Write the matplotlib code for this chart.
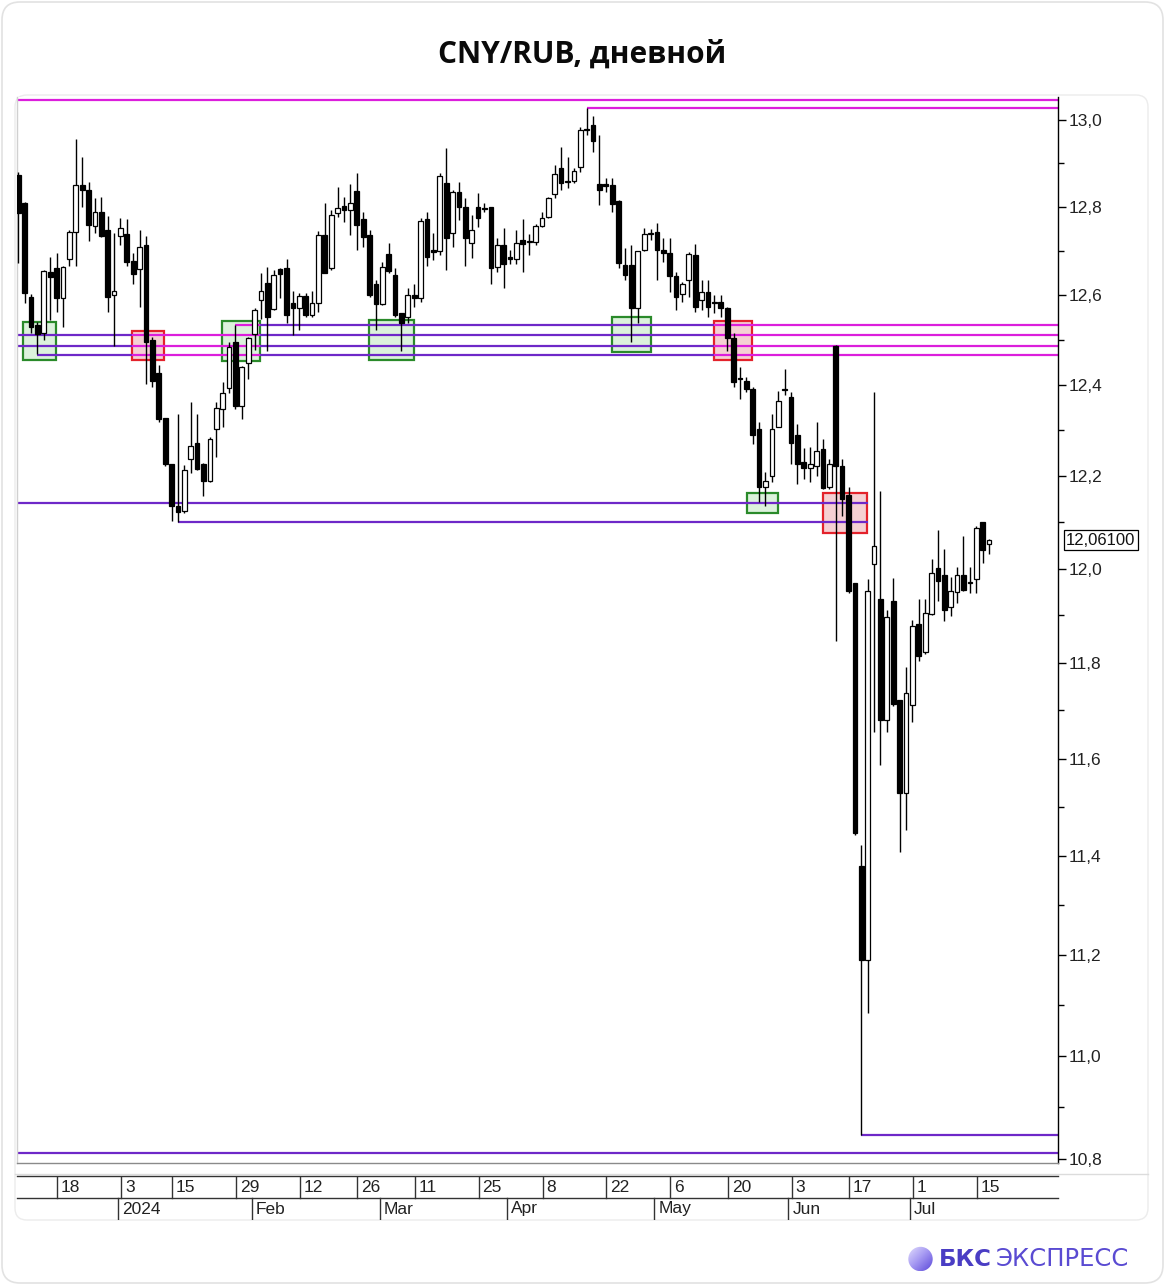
import numpy as np
import matplotlib
matplotlib.use("Agg")
import matplotlib.pyplot as plt
from matplotlib.patches import Rectangle, FancyBboxPatch, Circle
from matplotlib.ticker import FixedLocator, FuncFormatter, NullFormatter
from matplotlib.colors import LinearSegmentedColormap

plt.rcParams['font.family'] = ['Liberation Sans', 'DejaVu Sans']

W, H = 1165, 1285

# ---------------- data (daily OHLC, CNY/RUB) ----------------
opens = [12.873, 12.809, 12.596, 12.534, 12.516, 12.653, 12.662, 12.594, 12.682, 12.743,
         12.850, 12.839, 12.757, 12.789, 12.748, 12.601, 12.734, 12.739, 12.678, 12.660,
         12.714, 12.500, 12.427, 12.326, 12.227, 12.134, 12.123, 12.236, 12.273, 12.227,
         12.190, 12.302, 12.346, 12.392, 12.494, 12.354, 12.449, 12.514, 12.588, 12.628,
         12.570, 12.660, 12.662, 12.583, 12.572, 12.599, 12.556, 12.583, 12.736, 12.662,
         12.786, 12.802, 12.793, 12.836, 12.773, 12.736, 12.624, 12.581, 12.693, 12.646,
         12.561, 12.550, 12.601, 12.594, 12.773, 12.702, 12.700, 12.855, 12.741, 12.834,
         12.800, 12.718, 12.800, 12.798, 12.800, 12.664, 12.714, 12.686, 12.682, 12.725,
         12.721, 12.721, 12.757, 12.777, 12.830, 12.889, 12.859, 12.859, 12.891, 12.979,
         12.988, 12.852, 12.852, 12.850, 12.814, 12.669, 12.669, 12.572, 12.702, 12.738,
         12.743, 12.702, 12.696, 12.644, 12.603, 12.633, 12.691, 12.590, 12.608, 12.584,
         12.585, 12.572, 12.505, 12.415, 12.409, 12.390, 12.302, 12.176, 12.199, 12.308,
         12.391, 12.374, 12.289, 12.230, 12.217, 12.221, 12.258, 12.175, 12.487, 12.221,
         12.158, 11.969, 11.380, 11.190, 12.009, 11.935, 11.681, 11.931, 11.722, 11.528,
         11.712, 11.882, 11.823, 11.903, 12.001, 11.986, 11.918, 11.950, 11.986, 11.970,
         11.977, 12.100, 12.052]
highs = [12.880, 12.811, 12.603, 12.540, 12.657, 12.687, 12.696, 12.666, 12.748, 12.956,
         12.915, 12.857, 12.821, 12.823, 12.780, 12.741, 12.775, 12.773, 12.696, 12.748,
         12.734, 12.507, 12.445, 12.326, 12.227, 12.335, 12.223, 12.361, 12.335, 12.229,
         12.286, 12.361, 12.406, 12.494, 12.534, 12.442, 12.507, 12.572, 12.651, 12.664,
         12.657, 12.662, 12.682, 12.610, 12.605, 12.605, 12.610, 12.745, 12.809, 12.793,
         12.846, 12.823, 12.852, 12.877, 12.789, 12.748, 12.635, 12.675, 12.718, 12.662,
         12.561, 12.617, 12.624, 12.775, 12.789, 12.741, 12.877, 12.935, 12.839, 12.857,
         12.821, 12.782, 12.832, 12.809, 12.800, 12.730, 12.752, 12.702, 12.748, 12.773,
         12.739, 12.761, 12.789, 12.823, 12.896, 12.937, 12.915, 12.889, 12.984, 13.028,
         13.009, 12.965, 12.866, 12.866, 12.816, 12.707, 12.714, 12.700, 12.752, 12.750,
         12.764, 12.730, 12.730, 12.653, 12.630, 12.698, 12.716, 12.635, 12.635, 12.601,
         12.601, 12.574, 12.516, 12.440, 12.418, 12.396, 12.319, 12.208, 12.335, 12.387,
         12.436, 12.385, 12.313, 12.262, 12.264, 12.317, 12.280, 12.236, 12.489, 12.236,
         12.175, 11.969, 11.422, 11.977, 12.385, 12.167, 11.912, 11.980, 11.722, 11.791,
         11.890, 11.935, 11.935, 12.020, 12.082, 12.042, 11.982, 12.003, 12.070, 12.003,
         12.091, 12.100, 12.063]
lows = [12.673, 12.583, 12.516, 12.469, 12.500, 12.545, 12.563, 12.529, 12.666, 12.666,
        12.800, 12.723, 12.741, 12.732, 12.563, 12.487, 12.714, 12.666, 12.624, 12.574,
        12.401, 12.396, 12.317, 12.221, 12.102, 12.100, 12.119, 12.206, 12.214, 12.156,
        12.186, 12.241, 12.306, 12.383, 12.346, 12.324, 12.412, 12.478, 12.547, 12.474,
        12.567, 12.594, 12.538, 12.511, 12.523, 12.552, 12.552, 12.563, 12.651, 12.657,
        12.777, 12.766, 12.736, 12.702, 12.709, 12.596, 12.523, 12.578, 12.651, 12.552,
        12.474, 12.538, 12.574, 12.585, 12.666, 12.680, 12.691, 12.657, 12.709, 12.770,
        12.666, 12.684, 12.755, 12.789, 12.624, 12.653, 12.617, 12.671, 12.671, 12.653,
        12.691, 12.714, 12.755, 12.775, 12.821, 12.839, 12.843, 12.855, 12.880, 12.965,
        12.926, 12.805, 12.834, 12.789, 12.662, 12.635, 12.496, 12.538, 12.700, 12.725,
        12.635, 12.675, 12.608, 12.567, 12.585, 12.596, 12.563, 12.567, 12.552, 12.561,
        12.552, 12.474, 12.396, 12.368, 12.385, 12.269, 12.143, 12.134, 12.186, 12.306,
        12.378, 12.225, 12.182, 12.193, 12.186, 12.199, 12.171, 12.171, 11.846, 12.113,
        11.947, 11.443, 10.846, 11.085, 11.656, 11.587, 11.656, 11.710, 11.409, 11.454,
        11.676, 11.804, 11.818, 11.901, 11.931, 11.888, 11.899, 11.926, 11.952, 11.948,
        11.948, 12.012, 12.031]
closes = [12.786, 12.605, 12.529, 12.514, 12.655, 12.642, 12.594, 12.664, 12.743, 12.850,
          12.839, 12.759, 12.789, 12.734, 12.596, 12.610, 12.752, 12.675, 12.648, 12.709,
          12.494, 12.409, 12.324, 12.225, 12.134, 12.121, 12.214, 12.265, 12.216, 12.188,
          12.280, 12.348, 12.381, 12.483, 12.354, 12.440, 12.503, 12.567, 12.610, 12.550,
          12.646, 12.648, 12.556, 12.572, 12.599, 12.556, 12.583, 12.736, 12.651, 12.782,
          12.798, 12.793, 12.809, 12.759, 12.732, 12.601, 12.581, 12.664, 12.655, 12.556,
          12.538, 12.601, 12.594, 12.768, 12.687, 12.698, 12.871, 12.730, 12.834, 12.800,
          12.730, 12.748, 12.775, 12.796, 12.662, 12.714, 12.671, 12.682, 12.718, 12.716,
          12.723, 12.757, 12.775, 12.821, 12.875, 12.855, 12.857, 12.882, 12.977, 12.977,
          12.951, 12.839, 12.848, 12.807, 12.673, 12.646, 12.572, 12.700, 12.739, 12.740,
          12.702, 12.696, 12.644, 12.596, 12.626, 12.693, 12.574, 12.608, 12.574, 12.582,
          12.572, 12.505, 12.407, 12.413, 12.390, 12.289, 12.176, 12.189, 12.302, 12.365,
          12.388, 12.273, 12.225, 12.217, 12.227, 12.254, 12.173, 12.227, 12.221, 12.149,
          11.952, 11.447, 11.190, 11.952, 12.048, 11.681, 11.897, 11.714, 11.528, 11.737,
          11.878, 11.814, 11.905, 11.990, 11.973, 11.912, 11.952, 11.986, 11.954, 11.971,
          12.087, 12.039, 12.061]

last_price_label = "12,06100"

day_labels = ["18", "3", "15", "29", "12", "26", "11", "25", "8", "22", "6", "20", "3", "17", "1", "15"]
day_idx = [6, 16, 24, 34, 44, 53, 62, 72, 82, 92, 102, 111, 121, 130, 140, 150]
month_labels = ["2024", "Feb", "Mar", "Apr", "May", "Jun", "Jul"]
month_idx = [16, 37, 57, 77, 100, 121, 140]

y_ticks = [10.8, 11.0, 11.2, 11.4, 11.6, 11.8, 12.0, 12.2, 12.4, 12.6, 12.8, 13.0]
y_minor = [10.9, 11.1, 11.3, 11.5, 11.7, 11.9, 12.1, 12.3, 12.5, 12.7, 12.9]

# horizontal levels: price, first candle (None = chart edge), last candle (None = chart edge), kind
level_price = [13.047, 13.028, 12.533, 12.511, 12.486, 12.466, 12.141, 12.100, 10.846, 10.812]
level_from = [None, 89, 34, None, None, 3, None, 25, 132, None]
level_to = [None, None, None, None, None, None, 133.0, 133.0, None, None]
level_kind = ["res", "res", "flip", "flip", "flip", "flip", "sup", "sup", "sup", "sup"]
flip_points = [17.85, 37.85, 108.99]   # where the 12.5 zone changes role

# highlighted zones: (first idx, last idx, low, high)
green_zones = [(0.69, 5.86, 12.456, 12.539), (31.85, 37.85, 12.452, 12.541),
               (54.96, 62.01, 12.454, 12.544), (92.92, 99.08, 12.473, 12.551),
               (114.06, 118.92, 12.119, 12.164)]
red_zones = [(17.85, 22.77, 12.454, 12.519), (108.99, 114.94, 12.456, 12.541),
             (125.96, 132.95, 12.076, 12.164)]

PURPLE = "#6e28c8"
MAGENTA = "#dc1edc"

# ---------------- figure ----------------
fig = plt.figure(figsize=(W / 100, H / 100), dpi=100)
fig.patch.set_facecolor("white")

bg = fig.add_axes([0, 0, 1, 1], zorder=0)
bg.set_xlim(0, W)
bg.set_ylim(H, 0)
bg.axis("off")
bg.add_patch(FancyBboxPatch((2, 2), W - 4, H - 4, boxstyle="round,pad=0,rounding_size=18",
                            ec="#e2e2e2", fc="white", lw=1.2))
bg.add_patch(FancyBboxPatch((15, 95), 1133, 1125, boxstyle="round,pad=0,rounding_size=12",
                            ec="#ececec", fc="white", lw=1.0))
bg.plot([15, 1148], [1173.5, 1173.5], color="#dcdcdc", lw=1.0)

# logo
grad = np.linspace(0, 1, 64)
gx, gy = np.meshgrid(grad, grad)
img = (gx + gy) / 2
cmap = LinearSegmentedColormap.from_list("lg", ["#e4e0fd", "#a396f2", "#5b48d8"])
circ = Circle((920.5, 1259), 12.2, transform=bg.transData, fc="none", ec="none")
bg.add_patch(circ)
im = bg.imshow(img, extent=[908, 933, 1271.5, 1246.5], cmap=cmap, zorder=2)
im.set_clip_path(circ)
bg.set_xlim(0, W)
bg.set_ylim(H, 0)
bg.text(939, 1259, "БКС", fontsize=16.5, fontweight="bold", color="#4a3dc4",
        ha="left", va="center", family=["DejaVu Sans"])
bg.text(996, 1259, "ЭКСПРЕСС", fontsize=17.5, color="#5a4bd2",
        ha="left", va="center", family=["DejaVu Sans"])

fig.text(582 / W, 1 - 55 / H, "CNY/RUB, дневной", ha="center", va="center",
         fontsize=21.5, fontweight="bold", color="#0a0a0a", family=["Open Sans", "DejaVu Sans"])

# main axes
x_lo, x_hi = -0.2, 162.8
ax = fig.add_axes([17 / W, 1 - 1163 / H, (1058 - 17) / W, (1163 - 97) / H], zorder=2)
ax.set_xlim(x_lo, x_hi)
ax.set_yscale("log")
ax.set_ylim(10.7923, 13.0535)

o = np.array(opens); h = np.array(highs); l = np.array(lows); c = np.array(closes)
x = np.arange(len(o))
ax.vlines(x, l, h, color="black", lw=1.0, zorder=3)
up = c >= o
bottom = np.minimum(o, c)
height = np.maximum(np.abs(c - o), 0.0012)
ax.bar(x[up], height[up], bottom=bottom[up], width=0.74, color="white",
       edgecolor="black", lw=0.9, zorder=4)
ax.bar(x[~up], height[~up], bottom=bottom[~up], width=0.74, color="black",
       edgecolor="black", lw=0.9, zorder=4)

# zones
for (a, b, lo, hi_) in green_zones:
    ax.add_patch(Rectangle((a, lo), b - a, hi_ - lo, fc="#dcf2dc", ec="#2a8a2a", lw=1.6, zorder=1.5))
for (a, b, lo, hi_) in red_zones:
    ax.add_patch(Rectangle((a, lo), b - a, hi_ - lo, fc="#f5d0d3", ec="#e3222b", lw=1.6, zorder=1.5))


def seg(y, a, b, col):
    ax.plot([a, b], [y, y], color=col, lw=1.6, zorder=2, solid_capstyle="butt")


for p, f, t, k in zip(level_price, level_from, level_to, level_kind):
    a = x_lo if f is None else f
    b = x_hi if t is None else t
    if k == "res":
        seg(p, a, b, MAGENTA)
    elif k == "sup":
        seg(p, a, b, PURPLE)
    else:
        bounds = [x_lo] + flip_points + [x_hi]
        cols = [PURPLE, MAGENTA, PURPLE, MAGENTA]
        for i in range(4):
            s0, s1 = max(bounds[i], a), min(bounds[i + 1], b)
            if s1 > s0:
                seg(p, s0, s1, cols[i])

# axes styling
ax.yaxis.tick_right()
ax.yaxis.set_major_locator(FixedLocator(y_ticks))
ax.yaxis.set_minor_locator(FixedLocator(y_minor))
ax.yaxis.set_major_formatter(FuncFormatter(lambda v, pos: f"{v:.1f}".replace(".", ",")))
ax.yaxis.set_minor_formatter(NullFormatter())
ax.tick_params(axis="y", which="major", length=6, width=1, pad=2, labelsize=12.5,
               labelcolor="#222222", direction="out")
ax.tick_params(axis="y", which="minor", length=4, width=1, direction="out")
ax.set_xticks([])
ax.spines["top"].set_visible(False)
ax.spines["left"].set_color("#d0d0d0")
ax.spines["bottom"].set_color("#8a8a8a")
ax.spines["right"].set_color("black")
for s in ax.spines.values():
    s.set_linewidth(1.0)

ax.text(1.0077, closes[-1], last_price_label, transform=ax.get_yaxis_transform(),
        ha="left", va="center", fontsize=12, color="#111111",
        bbox=dict(boxstyle="square,pad=0.15", fc="white", ec="black", lw=0.9), zorder=6,
        clip_on=False)

# date axis
ax2 = fig.add_axes([17 / W, 1 - 1220 / H, (1058 - 17) / W, (1220 - 1176) / H], zorder=2)
ax2.set_xlim(x_lo, x_hi)
ax2.set_ylim(0, 2)
ax2.axis("off")
ax2.plot([x_lo, x_hi], [2, 2], color="#333333", lw=1.0, clip_on=False)
ax2.plot([x_lo, x_hi], [1, 1], color="#333333", lw=1.0, clip_on=False)
for d, lab in zip(day_idx, day_labels):
    xd = d + 0.1
    ax2.plot([xd, xd], [1, 2], color="#333333", lw=1.0)
    ax2.text(xd + 0.6, 1.5, lab, ha="left", va="center", fontsize=12.5, color="#222222")
for m, lab in zip(month_idx, month_labels):
    xm = m - 0.4
    ax2.plot([xm, xm], [0, 1], color="#333333", lw=1.0)
    ax2.text(xm + 0.6, 0.5, lab, ha="left", va="center", fontsize=12.5, color="#222222")

fig.savefig("out.png", dpi=100)
